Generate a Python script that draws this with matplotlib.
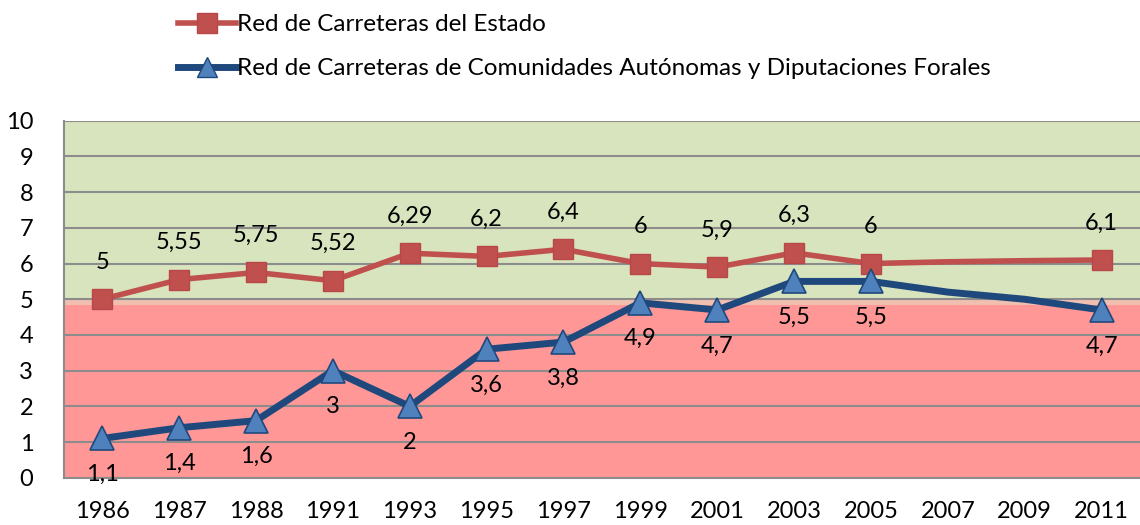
import matplotlib
matplotlib.use("Agg")
import matplotlib.pyplot as plt
from matplotlib.lines import Line2D
import numpy as np

years = ["1986", "1987", "1988", "1991", "1993", "1995", "1997", "1999",
         "2001", "2003", "2005", "2007", "2009", "2011"]
estado = [5, 5.55, 5.75, 5.52, 6.29, 6.2, 6.4, 6, 5.9, 6.3, 6, 6.05, 6.08, 6.1]
estado_labels = ["5", "5,55", "5,75", "5,52", "6,29", "6,2", "6,4", "6", "5,9",
                 "6,3", "6", "", "", "6,1"]
autonomicas = [1.1, 1.4, 1.6, 3, 2, 3.6, 3.8, 4.9, 4.7, 5.5, 5.5, 5.2, 5.0, 4.7]
autonomicas_labels = ["1,1", "1,4", "1,6", "3", "2", "3,6", "3,8", "4,9", "4,7",
                      "5,5", "5,5", "", "", "4,7"]
yticks = list(range(0, 11))

plt.rcParams['font.family'] = ['Lato', 'DejaVu Sans']

fig = plt.figure(figsize=(11.4, 5.25), dpi=100)
ax = fig.add_axes([0.056, 0.09, 0.944, 0.68])

x = np.arange(len(years))
ax.set_xlim(-0.5, len(years) - 0.5)
ax.set_ylim(0, 10)

# background bands
ax.axhspan(0, 4.85, color="#ff9797", zorder=0, lw=0)
ax.axhspan(4.85, 4.97, color="#f0bfb0", zorder=0, lw=0)
ax.axhspan(4.97, 10, color="#d7e4bd", zorder=0, lw=0)

for yv in yticks:
    ax.axhline(yv, color="#8c8c8c", lw=1.5, zorder=1)

mark_idx = [i for i, l in enumerate(estado_labels) if l != ""]

ax.plot(x, estado, color="#c0504d", lw=4, zorder=3,
        marker="s", markersize=15, markerfacecolor="#c0504d",
        markeredgecolor="#b9474a", markevery=mark_idx)
ax.plot(x, autonomicas, color="#1f497d", lw=5, zorder=4,
        marker="^", markersize=17, markerfacecolor="#4f81bd",
        markeredgecolor="#1f497d", markeredgewidth=1.2, markevery=mark_idx)

for i in range(len(years)):
    if estado_labels[i]:
        ax.annotate(estado_labels[i], (x[i], estado[i]), xytext=(0, 37),
                    textcoords="offset pixels", ha="center", va="center",
                    fontsize=17, color="black", zorder=5)
    if autonomicas_labels[i]:
        ax.annotate(autonomicas_labels[i], (x[i], autonomicas[i]), xytext=(0, -36),
                    textcoords="offset pixels", ha="center", va="center",
                    fontsize=17, color="black", zorder=5)

ax.set_xticks(x)
ax.set_xticklabels(years, fontsize=17)
ax.set_yticks(yticks)
ax.set_yticklabels([str(v) for v in yticks], fontsize=17)
ax.tick_params(axis="both", length=0)
ax.tick_params(axis="x", pad=17)
ax.tick_params(axis="y", pad=22)

for s in ["top", "right"]:
    ax.spines[s].set_visible(False)
for s in ["left", "bottom"]:
    ax.spines[s].set_color("#8c8c8c")
    ax.spines[s].set_linewidth(1.5)

handles = [
    Line2D([], [], color="#c0504d", lw=4, marker="s", markersize=15,
           markerfacecolor="#c0504d", markeredgecolor="#b9474a"),
    Line2D([], [], color="#1f497d", lw=5, marker="^", markersize=15,
           markerfacecolor="#4f81bd", markeredgecolor="#1f497d"),
]
fig.legend(handles, ["Red de Carreteras del Estado",
                     "Red de Carreteras de Comunidades Autónomas y Diputaciones Forales"],
           loc="upper left", bbox_to_anchor=(0.139, 1.01), frameon=False,
           fontsize=17.5, handlelength=2.4, handletextpad=0.05, labelspacing=0.95,
           borderpad=0.3)

fig.savefig("out.png", dpi=100)
